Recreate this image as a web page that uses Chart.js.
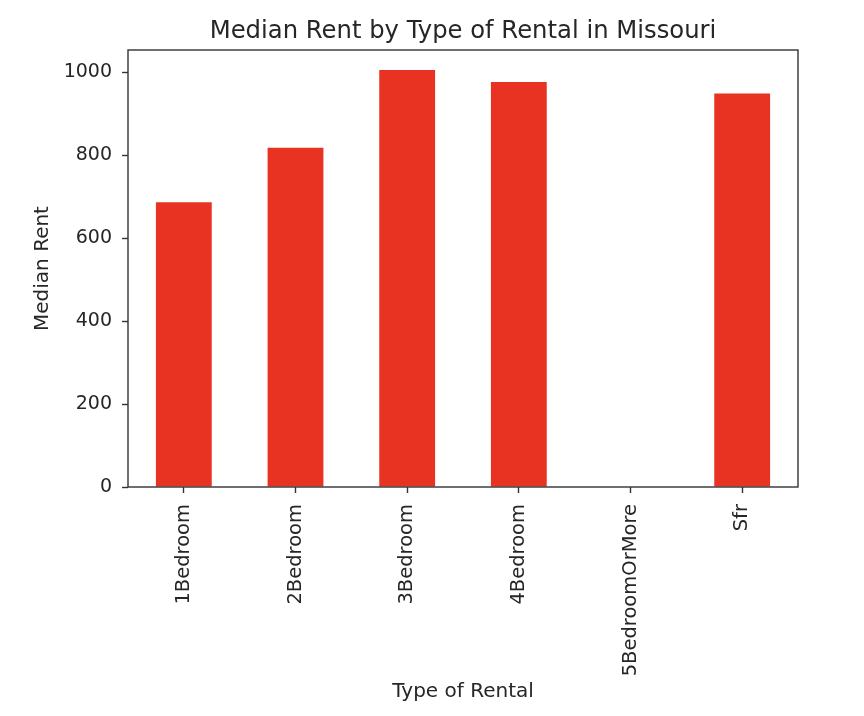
<!DOCTYPE html>
<html>
<head>
<meta charset="utf-8">
<script src="https://cdn.jsdelivr.net/npm/chart.js@4/dist/chart.umd.min.js"></script>
<style>
  html, body { margin: 0; padding: 0; background: #fff; }
  #wrap { width: 864px; height: 716px; }
</style>
</head>
<body>
<div id="wrap"><canvas id="c" width="864" height="716"></canvas></div>
<script>
const categories = ['1Bedroom', '2Bedroom', '3Bedroom', '4Bedroom', '5BedroomOrMore', 'Sfr'];
const medianRent = [687, 818, 1006, 977, null, 949];
const yTicks = [0, 200, 400, 600, 800, 1000];
const chartTitle = 'Median Rent by Type of Rental in Missouri';

const FONT = 'DejaVu Sans';
const TEXT = '#262626';

const framePlugin = {
  id: 'frame',
  afterDraw(chart) {
    const a = chart.chartArea, ctx = chart.ctx;
    ctx.save();
    ctx.strokeStyle = '#333';
    ctx.lineWidth = 1.4;
    ctx.strokeRect(a.left, a.top, a.right - a.left, a.bottom - a.top);
    ctx.fillStyle = TEXT;
    ctx.font = '24.3px "' + FONT + '"';
    ctx.textAlign = 'center';
    ctx.textBaseline = 'alphabetic';
    ctx.fillText(chartTitle, (a.left + a.right) / 2, a.top - 12);
    ctx.restore();
  }
};

new Chart(document.getElementById('c'), {
  type: 'bar',
  data: {
    labels: categories,
    datasets: [{
      data: medianRent,
      backgroundColor: '#e83323',
      borderWidth: 0,
      categoryPercentage: 1.0,
      barPercentage: 0.5
    }]
  },
  options: {
    responsive: false,
    animation: false,
    layout: { padding: { left: 27, right: 66, top: 50, bottom: 8 } },
    plugins: {
      legend: { display: false },
      tooltip: { enabled: false },
      title: { display: false }
    },
    scales: {
      x: {
        offset: true,
        grid: { display: true, offset: false, drawOnChartArea: false, drawTicks: true, tickLength: 6, tickColor: '#333', tickWidth: 1.4 },
        border: { display: false },
        ticks: { color: TEXT, font: { family: FONT, size: 19.5 }, minRotation: 90, maxRotation: 90, padding: 11, autoSkip: false },
        title: { display: true, text: 'Type of Rental', color: TEXT, font: { family: FONT, size: 20 } },
        afterFit(scale) { scale.height = 221; }
      },
      y: {
        min: 0,
        max: 1054,
        grid: { display: true, drawOnChartArea: false, drawTicks: true, tickLength: 6, tickColor: '#333', tickWidth: 1.4 },
        border: { display: false },
        afterBuildTicks(scale) { scale.ticks = yTicks.map(v => ({ value: v })); },
        ticks: { color: TEXT, font: { family: FONT, size: 19 }, padding: 10, callback: v => String(v) },
        title: { display: true, text: 'Median Rent', color: TEXT, font: { family: FONT, size: 20 } },
        afterFit(scale) { scale.width = 101; }
      }
    }
  },
  plugins: [framePlugin]
});
</script>
</body>
</html>
